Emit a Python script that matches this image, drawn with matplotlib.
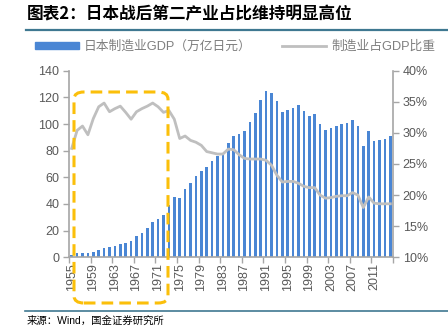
import matplotlib
matplotlib.use("Agg")
import matplotlib.pyplot as plt
import matplotlib.patches as patches
from matplotlib.lines import Line2D
import numpy as np

plt.rcParams['font.family'] = ['Liberation Sans', 'Noto Sans CJK SC', 'DejaVu Sans']

# -- Data --
years = list(range(1955, 2015))
gdp = [2, 3, 3, 3, 4, 5.5, 6.7, 7.5, 8.5, 10,
       11, 12, 15.7, 18, 22, 26.5, 28.5, 32, 39, 45.3,
       44.4, 50.9, 55.5, 60.8, 64.4, 67.8, 72.6, 76.3, 78.6, 86,
       91.3, 92.3, 95, 101.3, 108.5, 117.7, 125, 123.2, 116.9, 108.8,
       110.5, 112.3, 114, 109.5, 106, 107.8, 99.8, 95.8, 96.8, 98.8,
       99.8, 100.5, 103.3, 98.8, 83.3, 94.5, 87.3, 88, 88.8, 90.8]
share = [27.5, 30.4, 31.1, 29.7, 32.3, 34.2, 34.8, 33.4, 33.9, 34.3,
         33.3, 32.2, 33.4, 33.9, 34.3, 34.8, 34.2, 33.3, 33.6, 32.2,
         29.1, 29.5, 28.8, 28.5, 28.0, 27.0, 26.8, 26.6, 26.6, 27.4,
         27.3, 26.5, 25.9, 25.8, 25.8, 25.8, 25.6, 24.8, 23.2, 22.1,
         22.2, 22.2, 21.9, 21.4, 21.2, 21.2, 20.0, 19.5, 19.6, 19.8,
         19.9, 19.9, 20.4, 20.0, 18.0, 19.7, 18.7, 18.6, 18.6, 18.6]
left_ticks = [0, 20, 40, 60, 80, 100, 120, 140]
right_ticks = [10, 15, 20, 25, 30, 35, 40]

title = "图表2：日本战后第二产业占比维持明显高位"
source = "来源：Wind，国金证券研究所"
bar_label = "日本制造业GDP（万亿日元）"
line_label = "制造业占GDP比重"

BLUE = "#4a86d4"
GREY_LINE = "#bfbfbf"
AXIS = "#a6a6a6"
TEXT = "#595959"
RULE = "#3f7891"
ORANGE = "#fbbf0a"

W, H = 448, 327
fig = plt.figure(figsize=(W / 100, H / 100), dpi=100)
ax = fig.add_axes([69 / W, 1 - 257.3 / H, 324 / W, 186.6 / H])
ax2 = ax.twinx()

x = np.arange(len(years))
ax.bar(x, gdp, width=0.5, color=BLUE, zorder=2)
ax.set_xlim(-0.5, len(years) - 0.5)
ax.set_ylim(0, 140)
ax.set_yticks(left_ticks)
ax.set_yticklabels([str(t) for t in left_ticks])

ax2.plot(x, share, color=GREY_LINE, lw=2.0, solid_joinstyle="round", zorder=3)
ax2.set_ylim(10, 40)
ax2.set_yticks(right_ticks)
ax2.set_yticklabels([f"{t}%" for t in right_ticks])

# x labels every 4 years at category centers, tick marks at boundaries
ax.set_xticks(x[::4])
ax.set_xticklabels([str(y) for y in years[::4]], rotation=90)
ax.set_xticks(np.arange(-0.5, len(years), 4), minor=True)
ax.tick_params(axis="x", which="major", length=0, pad=4)
ax.tick_params(axis="x", which="minor", length=4, color=AXIS, width=1)

for a in (ax, ax2):
    for s in a.spines.values():
        s.set_visible(False)
    a.tick_params(labelsize=9, labelcolor=TEXT)
ax.spines["left"].set_visible(True)
ax.spines["bottom"].set_visible(True)
ax2.spines["right"].set_visible(True)
for s in (ax.spines["left"], ax.spines["bottom"], ax2.spines["right"]):
    s.set_color(AXIS)
    s.set_linewidth(1.2)
ax.tick_params(axis="y", length=4, color=AXIS, width=1, pad=3)
ax2.tick_params(axis="y", length=4, color=AXIS, width=1, pad=3)
ax2.set_zorder(ax.get_zorder() + 1)
ax2.patch.set_visible(False)

# dashed highlight box (figure pixel coords)
box = patches.FancyBboxPatch(
    (74 / W, 1 - 303 / H), 94 / W, 211 / H,
    boxstyle="round,pad=0,rounding_size=0.022",
    transform=fig.transFigure, facecolor="none", edgecolor=ORANGE,
    linewidth=2.2, linestyle=(0, (3.8, 2)), zorder=10, clip_on=False,
)
fig.add_artist(box)

# title, rules, source
fig.text(27 / W, 1 - 14 / H, title, fontsize=12, fontweight="bold",
         color="black", va="center", ha="left",
         family=['Noto Sans CJK SC', 'DejaVu Sans'])
fig.add_artist(Line2D([26 / W, 1], [1 - 30 / H] * 2, color=RULE, lw=1.6,
                      transform=fig.transFigure))
fig.add_artist(Line2D([25 / W, 1], [1 - 311 / H] * 2, color=RULE, lw=1.2,
                      transform=fig.transFigure))
fig.text(27 / W, 1 - 326 / H, source, fontsize=7.5, color="black",
         va="bottom", ha="left")

# legend
handles = [patches.Patch(color=BLUE),
           Line2D([], [], color=GREY_LINE, lw=2.0)]
fig.legend(handles, [bar_label, line_label], loc="center",
           bbox_to_anchor=(0.525, 1 - 47 / H), ncol=2, frameon=False,
           fontsize=9.2, labelcolor="#7f7f7f", handlelength=3.4,
           handleheight=0.55, columnspacing=2.4, handletextpad=0.4)

fig.savefig("out.png", dpi=100)
